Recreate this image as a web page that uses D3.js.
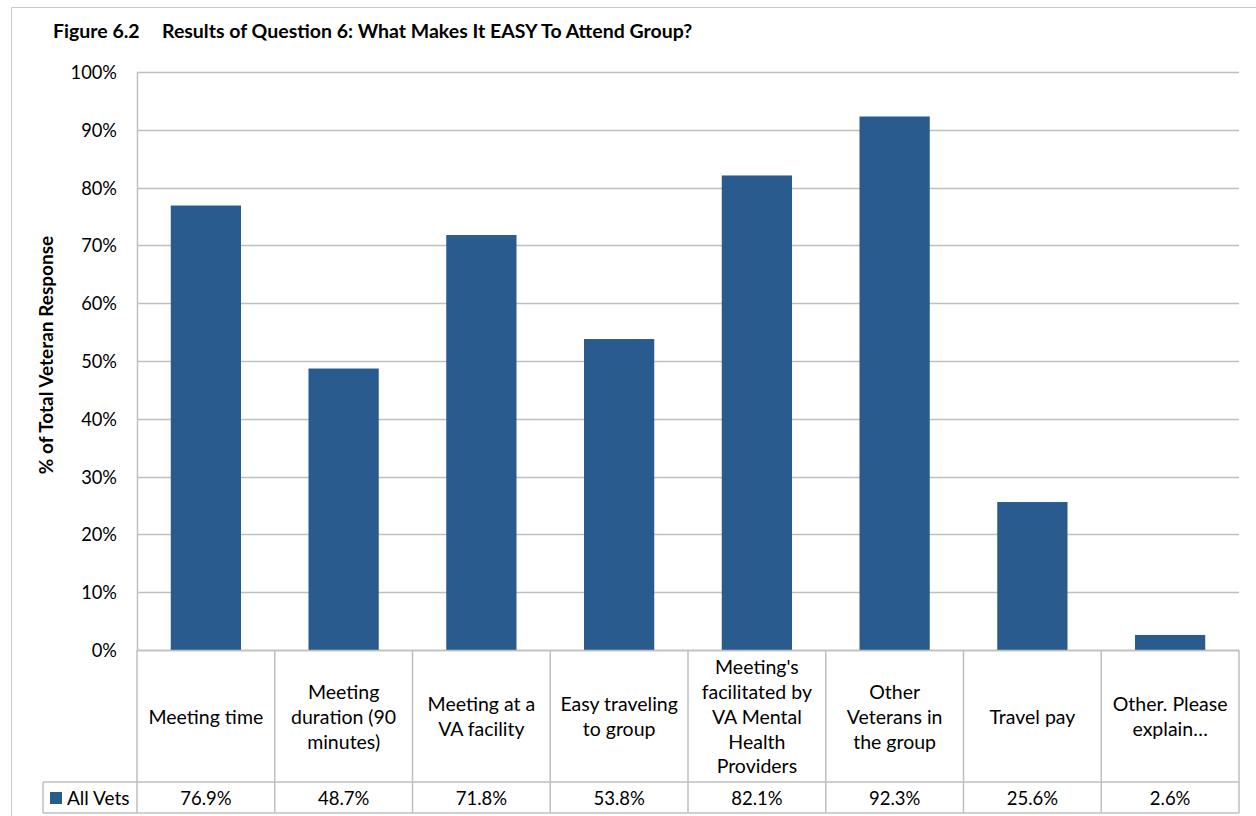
<!DOCTYPE html>
<html><head><meta charset="utf-8">
<script src="https://cdn.jsdelivr.net/npm/d3@7"></script>
<style>body{margin:0;background:#fff;} svg{display:block;} text{font-family:Lato,"Open Sans",sans-serif;fill:#000;}</style>
</head><body>
<svg id="c" width="1256" height="816"></svg>
<script>
const categories = [
  ["Meeting time"],
  ["Meeting", "duration (90", "minutes)"],
  ["Meeting at a", "VA facility"],
  ["Easy traveling", "to group"],
  ["Meeting's", "facilitated by", "VA Mental", "Health", "Providers"],
  ["Other", "Veterans in", "the group"],
  ["Travel pay"],
  ["Other. Please", "explain…"]
];
const values = [76.9, 48.7, 71.8, 53.8, 82.1, 92.3, 25.6, 2.6];
const valueLabels = ["76.9%", "48.7%", "71.8%", "53.8%", "82.1%", "92.3%", "25.6%", "2.6%"];
const yTicks = [0, 10, 20, 30, 40, 50, 60, 70, 80, 90, 100];
const seriesName = "All Vets";

const svg = d3.select("#c");
const L = 137, R = 1239, T = 72, B = 650;
const rowBottom = 782, tableBottom = 813, legendLeft = 43;
const gridColor = "#bfbfbf", barColor = "#2a5b8f";

// outer border
svg.append("path").attr("d", `M1256,7.5 H11.5 V816`).attr("fill","none").attr("stroke","#c8c8c8").attr("stroke-width",1);

// title
svg.append("text").attr("x",53).attr("y",38).attr("font-size",19.5).attr("font-weight","bold").text("Figure 6.2");
svg.append("text").attr("x",162).attr("y",38).attr("font-size",19.5).attr("font-weight","bold").text("Results of Question 6: What Makes It EASY To Attend Group?");

const x = d3.scaleBand().domain(d3.range(categories.length)).range([L, R]).paddingInner(0.49).paddingOuter(0.245);
const xb = d3.scaleBand().domain(d3.range(categories.length)).range([L, R]);
const y = d3.scaleLinear().domain([0, 100]).range([B, T]);

// gridlines
svg.append("g").selectAll("line").data(yTicks).join("line")
  .attr("x1", L).attr("x2", R).attr("y1", d => Math.round(y(d))+0.5).attr("y2", d => Math.round(y(d))+0.5)
  .attr("stroke", gridColor).attr("stroke-width", 1.5);
// y axis line
svg.append("line").attr("x1",L+0.5).attr("x2",L+0.5).attr("y1",T).attr("y2",B).attr("stroke",gridColor).attr("stroke-width",1.5);

// y tick labels
const yAxis = d3.axisLeft(y).tickValues(yTicks).tickFormat(d => d + "%").tickSize(0).tickPadding(20);
const ya = svg.append("g").attr("transform", `translate(${L},0)`).call(yAxis);
ya.select(".domain").remove();
ya.selectAll("text").attr("font-size", 18.3).attr("font-family","Lato,'Open Sans',sans-serif").attr("fill","#000").attr("dy","0.35em");

// y axis title
svg.append("text").attr("transform", `translate(53,${(T+B)/2 - 6}) rotate(-90)`).attr("text-anchor","middle")
  .attr("font-size",19).attr("font-weight","bold").text("% of Total Veteran Response");

// bars
svg.append("g").selectAll("rect").data(values).join("rect")
  .attr("x", (d,i) => x(i)).attr("width", x.bandwidth())
  .attr("y", d => y(d)).attr("height", d => y(0) - y(d)).attr("fill", barColor);

// table
const tg = svg.append("g").attr("stroke", gridColor).attr("stroke-width",1.5).attr("fill","none");
tg.append("line").attr("x1",L).attr("x2",R).attr("y1",B+0.5).attr("y2",B+0.5);
tg.append("line").attr("x1",legendLeft).attr("x2",R).attr("y1",rowBottom).attr("y2",rowBottom);
tg.append("line").attr("x1",legendLeft).attr("x2",R).attr("y1",tableBottom).attr("y2",tableBottom);
const vx = d3.range(categories.length + 1).map(i => i < categories.length ? xb(i) : R);
tg.selectAll("line.v").data(vx).join("line").attr("class","v")
  .attr("x1", d => d).attr("x2", d => d).attr("y1", B).attr("y2", tableBottom);
tg.append("line").attr("x1",legendLeft).attr("x2",legendLeft).attr("y1",rowBottom).attr("y2",tableBottom);

// category labels
const lh = 24.8, midY = 717;
categories.forEach((lines, i) => {
  const cx = xb(i) + xb.bandwidth()/2;
  const t = svg.append("text").attr("text-anchor","middle").attr("font-size",19.5);
  lines.forEach((ln, j) => {
    t.append("tspan").attr("x", cx).attr("y", midY + (j - (lines.length-1)/2) * lh).attr("dy","0.35em").text(ln);
  });
});

// data row
svg.append("g").selectAll("text").data(valueLabels).join("text")
  .attr("x", (d,i) => xb(i) + xb.bandwidth()/2).attr("y", (rowBottom+tableBottom)/2 + 1).attr("dy","0.35em")
  .attr("text-anchor","middle").attr("font-size",18.5).text(d => d);

// legend
svg.append("rect").attr("x",50).attr("y",792).attr("width",12).attr("height",12).attr("fill",barColor);
svg.append("text").attr("x",67).attr("y",(rowBottom+tableBottom)/2 + 1).attr("dy","0.35em").attr("font-size",19).text(seriesName);
</script>
</body></html>
